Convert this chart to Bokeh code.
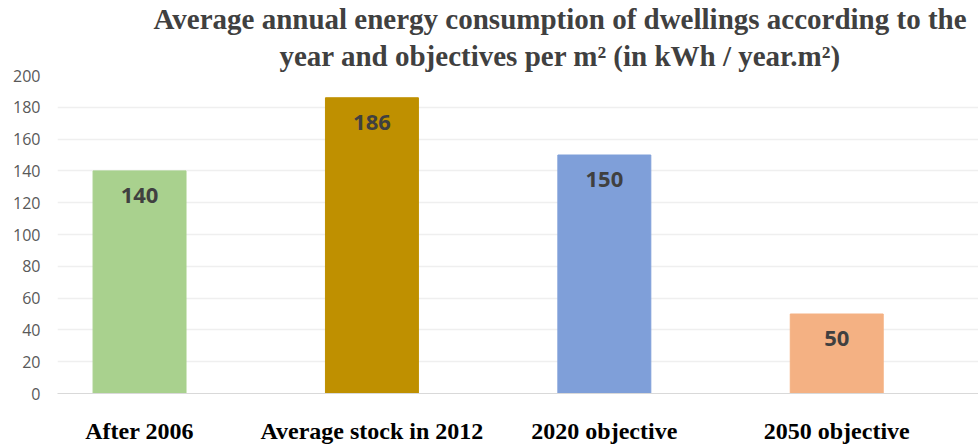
from bokeh.plotting import figure
from bokeh.models import Range1d, FixedTicker, Title, ColumnDataSource
from bokeh.core.properties import value
from bokeh.embed import file_html
from bokeh.resources import INLINE

categories = ["After 2006", "Average stock in 2012", "2020 objective", "2050 objective"]
values = [140, 186, 150, 50]
colors = ["#A9D18E", "#BF9000", "#7F9FD9", "#F4B183"]
y_ticks = [0, 20, 40, 60, 80, 100, 120, 140, 160, 180, 200]
title_lines = ["Average annual energy consumption of dwellings according to the",
               "year and objectives per m\u00b2 (in kWh / year.m\u00b2)"]
title_offsets = [96, 222]

xpos = list(range(len(categories)))
src = ColumnDataSource(dict(x=xpos, top=values, color=colors,
                            label=[str(v) for v in values]))

p = figure(width=978, height=446, output_backend="svg", toolbar_location=None,
           x_range=Range1d(-0.353, 3.610), y_range=Range1d(0, 200),
           min_border_left=57, min_border_right=0, min_border_bottom=0,
           min_border_top=0)
p.outline_line_color = None
p.background_fill_color = "white"

p.vbar(x="x", top="top", width=0.4, color="color", source=src)
p.text(x="x", y="top", text="label", source=src, text_align="center",
       text_baseline="top", y_offset=17, text_font=value("Open Sans"),
       text_font_style="bold", text_font_size="22px", text_color="#404040")

# titles (line 2 first, closest to plot)
for i in (1, 0):
    t = Title(text=title_lines[i], align="left", offset=title_offsets[i],
              text_font_size="29px", text_font_style="bold", text_color="#404040",
              standoff=7 if i == 1 else 0)
    t.text_font = "Liberation Serif"
    p.add_layout(t, "above")

p.xaxis.ticker = FixedTicker(ticks=xpos)
p.xaxis.major_label_overrides = {i: c for i, c in enumerate(categories)}
p.xaxis.major_label_text_font = "Liberation Serif"
p.xaxis.major_label_text_font_style = "bold"
p.xaxis.major_label_text_font_size = "24px"
p.xaxis.major_label_text_color = "#000000"
p.xaxis.major_label_standoff = 24
p.xaxis.axis_label_standoff = 0
p.xaxis.axis_line_color = "#D9D9D9"
p.xaxis.major_tick_line_color = None
p.xaxis.minor_tick_line_color = None
p.xaxis.major_tick_out = 0
p.xaxis.major_tick_in = 0

p.yaxis.ticker = FixedTicker(ticks=y_ticks)
p.yaxis.major_label_text_font = "Open Sans"
p.yaxis.major_label_text_font_size = "16px"
p.yaxis.major_label_text_color = "#595959"
p.yaxis.axis_line_color = None
p.yaxis.major_tick_line_color = None
p.yaxis.minor_tick_line_color = None
p.yaxis.major_tick_out = 0
p.yaxis.major_tick_in = 0
p.yaxis.major_label_standoff = 17

p.xgrid.grid_line_color = None
p.ygrid.grid_line_color = "#EFEFEF"
p.ygrid.grid_line_width = 1.5

open("out.html", "w").write(file_html(p, INLINE))
